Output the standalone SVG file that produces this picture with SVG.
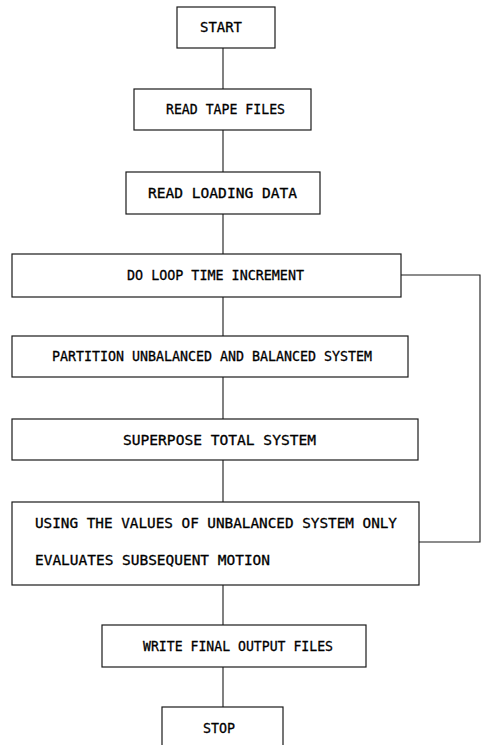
<svg xmlns="http://www.w3.org/2000/svg" width="484" height="745" viewBox="0 0 484 745">
<style>
.box{fill:#fff;stroke:#1a1a1a;stroke-width:1.2}
.ln{fill:none;stroke:#1a1a1a;stroke-width:1.1}
text{font-family:"DejaVu Sans Mono","Liberation Mono",monospace;font-size:13.5px;fill:#000;stroke:#000;stroke-width:0.3}
</style>
<rect width="484" height="745" fill="#fff"/>
<g id="connectors">
<path class="ln" d="M223 48V89M223 130V172M223 214V254M223 297V336M223 377V419M223 460V502M223 585V625M223 667V707"/>
<polyline class="ln" points="419,542 480,542 480,275 401,275"/>
</g>
<g id="start"><rect class="box" x="177" y="7" width="98" height="41"/><text x="200" y="32" textLength="42" lengthAdjust="spacingAndGlyphs">START</text></g>
<g id="read-tape"><rect class="box" x="134" y="89" width="177" height="41"/><text x="166" y="114" textLength="119" lengthAdjust="spacingAndGlyphs">READ TAPE FILES</text></g>
<g id="read-loading"><rect class="box" x="126" y="172" width="194" height="42"/><text x="148" y="198" textLength="149" lengthAdjust="spacingAndGlyphs">READ LOADING DATA</text></g>
<g id="do-loop"><rect class="box" x="12" y="254" width="389" height="43"/><text x="127" y="280" textLength="177" lengthAdjust="spacingAndGlyphs">DO LOOP TIME INCREMENT</text></g>
<g id="partition"><rect class="box" x="12" y="336" width="396" height="41"/><text x="52" y="361" textLength="320" lengthAdjust="spacingAndGlyphs">PARTITION UNBALANCED AND BALANCED SYSTEM</text></g>
<g id="superpose"><rect class="box" x="12" y="419" width="406" height="41"/><text x="123" y="445" textLength="193" lengthAdjust="spacingAndGlyphs">SUPERPOSE TOTAL SYSTEM</text></g>
<g id="evaluate"><rect class="box" x="12" y="502" width="407" height="83"/><text x="35" y="528" textLength="362" lengthAdjust="spacingAndGlyphs">USING THE VALUES OF UNBALANCED SYSTEM ONLY</text><text x="35" y="565" textLength="235" lengthAdjust="spacingAndGlyphs">EVALUATES SUBSEQUENT MOTION</text></g>
<g id="write"><rect class="box" x="102" y="625" width="264" height="42"/><text x="143" y="651" textLength="190" lengthAdjust="spacingAndGlyphs">WRITE FINAL OUTPUT FILES</text></g>
<g id="stop"><rect class="box" x="162" y="707" width="121" height="60"/><text x="203" y="733" textLength="32" lengthAdjust="spacingAndGlyphs">STOP</text></g>
</svg>
